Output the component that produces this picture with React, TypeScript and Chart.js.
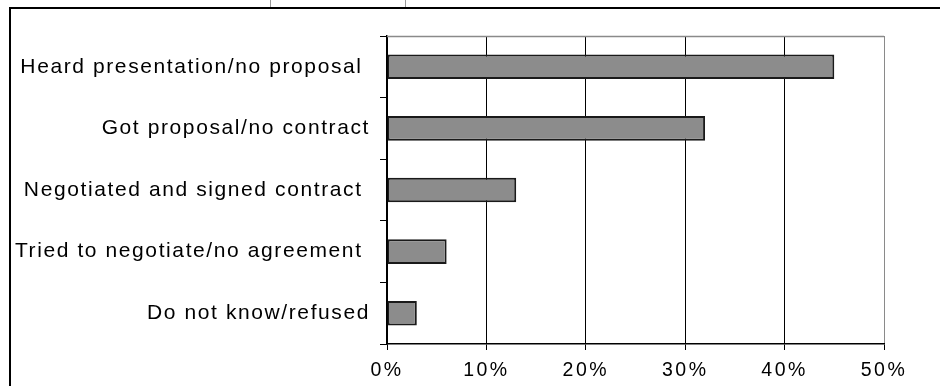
import React, { useEffect, useRef } from "react";
import { Chart, registerables } from "chart.js";

Chart.register(...registerables);

const categories = [
  "Heard presentation/no proposal ",
  "Got proposal/no contract",
  "Negotiated and signed contract ",
  "Tried to negotiate/no agreement ",
  "Do not know/refused",
];
const values = [45, 32, 13, 6, 3];
const xTicks = [0, 10, 20, 30, 40, 50];

const FONT = "'Liberation Sans', Arial, sans-serif";

function patchLetterSpacing(scale: any, spacing: string) {
  if (scale.__patched) return;
  const orig = scale.drawLabels.bind(scale);
  scale.drawLabels = (area: any) => {
    const c = scale.ctx as any;
    const prev = c.letterSpacing;
    c.letterSpacing = spacing;
    orig(area);
    c.letterSpacing = prev || "0px";
  };
  scale.__patched = true;
}

const framePlugin = {
  id: "frame",
  afterDraw(chart: any) {
    const { ctx, chartArea } = chart;
    ctx.save();
    // top gray plot border
    ctx.strokeStyle = "#8a8a8a";
    ctx.lineWidth = 1.5;
    ctx.beginPath();
    ctx.moveTo(chartArea.left, chartArea.top + 0.5);
    ctx.lineTo(chartArea.right, chartArea.top + 0.5);
    ctx.stroke();
    // outer frame (top and left)
    ctx.strokeStyle = "#000";
    ctx.lineWidth = 2;
    ctx.beginPath();
    ctx.moveTo(10, 386);
    ctx.lineTo(10, 8);
    ctx.lineTo(940, 8);
    ctx.stroke();
    // small marks above frame
    ctx.strokeStyle = "#999";
    ctx.lineWidth = 1;
    ctx.beginPath();
    ctx.moveTo(270.5, 0);
    ctx.lineTo(270.5, 7);
    ctx.moveTo(405.5, 0);
    ctx.lineTo(405.5, 7);
    ctx.stroke();
    ctx.restore();
  },
};

export default function App() {
  const ref = useRef<HTMLCanvasElement | null>(null);

  useEffect(() => {
    document.body.style.margin = "0";
    const canvas = ref.current;
    if (!canvas) return;
    const chart = new Chart(canvas, {
      type: "bar",
      data: {
        labels: categories,
        datasets: [
          {
            data: values,
            backgroundColor: "#8c8c8c",
            borderColor: "#1a1a1a",
            borderWidth: 2,
            borderSkipped: false,
            barPercentage: 0.4,
            categoryPercentage: 1.0,
          },
        ],
      },
      options: {
        indexAxis: "y",
        responsive: false,
        animation: false,
        devicePixelRatio: 1,
        layout: { padding: { top: 36, right: 56, left: 0, bottom: 0 } },
        plugins: {
          legend: { display: false },
          tooltip: { enabled: false },
          title: { display: false },
        },
        scales: {
          x: {
            type: "linear",
            min: 0,
            max: 50,
            afterBuildTicks: (scale: any) => {
              scale.ticks = xTicks.map((v) => ({ value: v }));
            },
            ticks: {
              stepSize: 10,
              autoSkip: false,
              maxRotation: 0,
              padding: 9,
              color: "#000",
              font: { family: FONT, size: 19.5 },
              callback: (v: any) => v + "%",
            },
            grid: {
              color: (ctx: any) =>
                ctx.tick && ctx.tick.value === 50 ? "#8a8a8a" : "#000",
              tickColor: "#000",
              lineWidth: 1,
              tickLength: 6,
              drawTicks: true,
            },
            border: { display: true, color: "#000", width: 1.5 },
            afterFit: (scale: any) => {
              scale.height = 42;
              patchLetterSpacing(scale, "2.5px");
            },
          },
          y: {
            type: "category",
            offset: true,
            ticks: {
              autoSkip: false,
              padding: 10,
              color: "#000",
              font: { family: FONT, size: 21 },
            },
            grid: {
              offset: true,
              drawOnChartArea: false,
              drawTicks: true,
              tickLength: 7,
              color: "#000",
              lineWidth: 1,
            },
            border: { display: true, color: "#000", width: 1.5 },
            afterFit: (scale: any) => {
              scale.width = 387;
              patchLetterSpacing(scale, "1.6px");
            },
          },
        },
      } as any,
      plugins: [framePlugin],
    });
    return () => chart.destroy();
  }, []);

  return (
    <div style={{ width: 940, height: 386, background: "#fff" }}>
      <canvas ref={ref} width={940} height={386} style={{ display: "block" }} />
    </div>
  );
}
